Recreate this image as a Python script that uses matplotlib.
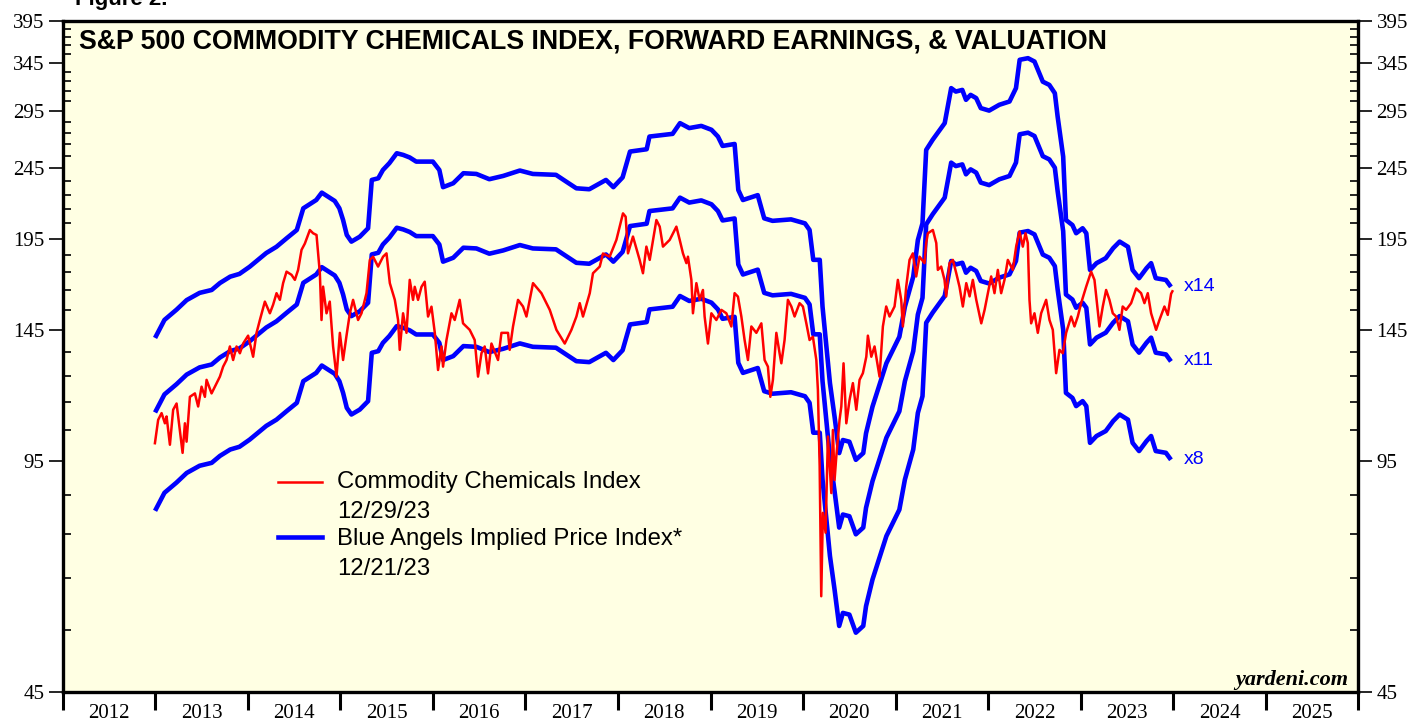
import matplotlib
matplotlib.use("Agg")
import matplotlib.pyplot as plt
from matplotlib.ticker import FixedLocator, NullFormatter, FixedFormatter
from matplotlib.lines import Line2D

# ---------------- data ----------------
eps_dates = [2013.01, 2013.10, 2013.23, 2013.34, 2013.48, 2013.61, 2013.70, 2013.81, 2013.91,
             2014.02, 2014.20, 2014.31, 2014.42, 2014.53, 2014.60, 2014.74, 2014.80, 2014.94, 2014.99,
             2015.03, 2015.07, 2015.12, 2015.21, 2015.30, 2015.34, 2015.41, 2015.46, 2015.53, 2015.61,
             2015.68, 2015.75, 2015.82, 2016.00, 2016.07, 2016.11, 2016.22, 2016.33, 2016.47, 2016.61,
             2016.76, 2016.94, 2017.08, 2017.33, 2017.44, 2017.55, 2017.69, 2017.87, 2017.95, 2018.05,
             2018.13, 2018.31, 2018.34, 2018.59, 2018.67, 2018.77, 2018.90, 2019.01, 2019.08, 2019.13,
             2019.26, 2019.30, 2019.35, 2019.51, 2019.58, 2019.67, 2019.87, 2020.02, 2020.07, 2020.11,
             2020.18, 2020.21, 2020.29, 2020.34, 2020.39, 2020.43, 2020.50, 2020.57, 2020.65, 2020.68,
             2020.75, 2020.90, 2021.04, 2021.10, 2021.19, 2021.24, 2021.29, 2021.33, 2021.40, 2021.53,
             2021.60, 2021.65, 2021.72, 2021.76, 2021.81, 2021.87, 2021.92, 2022.01, 2022.12, 2022.23,
             2022.30, 2022.34, 2022.43, 2022.50, 2022.59, 2022.66, 2022.72, 2022.75, 2022.81, 2022.84,
             2022.91, 2022.95, 2023.02, 2023.06, 2023.10, 2023.17, 2023.27, 2023.35, 2023.42, 2023.51,
             2023.56, 2023.63, 2023.71, 2023.76, 2023.81, 2023.92, 2023.96]
forward_eps = [10.17, 10.71, 11.07, 11.42, 11.69, 11.80, 12.07, 12.32, 12.43,
               12.72, 13.30, 13.57, 13.95, 14.33, 15.37, 15.79, 16.17, 15.74, 15.37,
               14.80, 14.10, 13.80, 14.02, 14.41, 16.85, 16.94, 17.40, 17.79, 18.37,
               18.27, 18.12, 17.88, 17.88, 17.40, 16.46, 16.67, 17.22, 17.18, 16.89,
               17.07, 17.37, 17.18, 17.13, 16.76, 16.40, 16.35, 16.85, 16.46, 16.99,
               18.47, 18.61, 19.39, 19.56, 20.25, 19.93, 20.07, 19.82, 19.39, 18.81,
               18.93, 16.31, 15.79, 16.04, 14.88, 14.76, 14.83, 14.64, 14.33, 13.01,
               13.01, 11.18, 8.73, 7.83, 6.96, 7.26, 7.22, 6.81, 6.96, 7.42,
               8.09, 9.31, 10.14, 11.18, 12.32, 13.87, 14.64, 18.57, 19.19, 20.25,
               22.68, 22.43, 22.55, 21.84, 22.19, 21.96, 21.26, 21.09, 21.49, 21.72,
               22.68, 24.86, 24.99, 24.72, 23.16, 22.92, 22.31, 20.69, 18.17, 14.80,
               14.56, 14.18, 14.41, 14.18, 12.59, 12.87, 13.08, 13.51, 13.80, 13.57,
               12.59, 12.26, 12.66, 12.87, 12.26, 12.19, 11.99]
multiples = [14, 11, 8]
multiple_labels = ["x14", "x11", "x8"]

price_dates = [2012.997, 2013.032, 2013.069, 2013.105, 2013.123, 2013.159, 2013.194, 2013.231, 2013.296,
               2013.321, 2013.339, 2013.375, 2013.429, 2013.464, 2013.501, 2013.537, 2013.555, 2013.609,
               2013.699, 2013.734, 2013.771, 2013.807, 2013.842, 2013.879, 2013.915, 2013.950, 2014.004,
               2014.058, 2014.095, 2014.131, 2014.185, 2014.239, 2014.274, 2014.311, 2014.347, 2014.382,
               2014.419, 2014.473, 2014.509, 2014.544, 2014.581, 2014.617, 2014.671, 2014.706, 2014.743,
               2014.779, 2014.797, 2014.814, 2014.851, 2014.886, 2014.922, 2014.959, 2014.995, 2015.030,
               2015.067, 2015.103, 2015.138, 2015.192, 2015.229, 2015.283, 2015.319, 2015.354, 2015.408,
               2015.462, 2015.499, 2015.535, 2015.589, 2015.624, 2015.642, 2015.678, 2015.715, 2015.750,
               2015.786, 2015.804, 2015.840, 2015.877, 2015.912, 2015.948, 2015.985, 2016.021, 2016.056,
               2016.093, 2016.110, 2016.147, 2016.201, 2016.236, 2016.290, 2016.326, 2016.398, 2016.452,
               2016.488, 2016.525, 2016.560, 2016.596, 2016.633, 2016.704, 2016.741, 2016.812, 2016.830,
               2016.866, 2016.920, 2016.974, 2017.011, 2017.046, 2017.082, 2017.173, 2017.263, 2017.335,
               2017.425, 2017.497, 2017.551, 2017.587, 2017.622, 2017.695, 2017.730, 2017.803, 2017.838,
               2017.910, 2017.983, 2018.054, 2018.083, 2018.108, 2018.162, 2018.234, 2018.270, 2018.307,
               2018.343, 2018.415, 2018.451, 2018.486, 2018.559, 2018.631, 2018.667, 2018.702, 2018.739,
               2018.756, 2018.793, 2018.810, 2018.847, 2018.882, 2018.918, 2018.936, 2018.972, 2019.009,
               2019.063, 2019.117, 2019.171, 2019.225, 2019.260, 2019.296, 2019.333, 2019.368, 2019.404,
               2019.441, 2019.495, 2019.549, 2019.584, 2019.620, 2019.646, 2019.674, 2019.711, 2019.746,
               2019.765, 2019.800, 2019.836, 2019.873, 2019.908, 2019.962, 2019.998, 2020.035, 2020.070,
               2020.106, 2020.143, 2020.160, 2020.179, 2020.196, 2020.214, 2020.243, 2020.268, 2020.305,
               2020.322, 2020.340, 2020.359, 2020.394, 2020.413, 2020.437, 2020.467, 2020.502, 2020.538,
               2020.575, 2020.610, 2020.646, 2020.683, 2020.700, 2020.737, 2020.772, 2020.826, 2020.862,
               2020.898, 2020.934, 2020.988, 2021.024, 2021.060, 2021.078, 2021.114, 2021.150, 2021.186,
               2021.222, 2021.258, 2021.312, 2021.330, 2021.348, 2021.402, 2021.439, 2021.456, 2021.492,
               2021.528, 2021.546, 2021.582, 2021.618, 2021.655, 2021.690, 2021.726, 2021.763, 2021.799,
               2021.834, 2021.871, 2021.925, 2021.961, 2021.996, 2022.032, 2022.068, 2022.104, 2022.140,
               2022.176, 2022.212, 2022.266, 2022.302, 2022.338, 2022.374, 2022.403, 2022.428, 2022.446,
               2022.464, 2022.500, 2022.536, 2022.572, 2022.626, 2022.662, 2022.698, 2022.734, 2022.770,
               2022.806, 2022.842, 2022.896, 2022.932, 2022.968, 2023.004, 2023.058, 2023.112, 2023.148,
               2023.202, 2023.238, 2023.274, 2023.310, 2023.346, 2023.382, 2023.418, 2023.453, 2023.490,
               2023.544, 2023.598, 2023.652, 2023.688, 2023.724, 2023.760, 2023.814, 2023.850, 2023.904,
               2023.940, 2023.976, 2023.990]
price_index = [100.6, 108.5, 110.9, 107.3, 109.7, 100.1, 112.1, 114.4, 97.5,
               107.3, 101.1, 116.9, 118.2, 113.3, 120.8, 116.9, 123.5, 118.2,
               124.8, 128.9, 131.7, 137.6, 131.7, 137.6, 134.6, 138.9, 142.5,
               133.1, 143.8, 149.9, 159.1, 153.2, 157.5, 163.5, 160.0, 168.9,
               175.3, 173.5, 170.7, 176.3, 188.1, 192.0, 200.6, 198.5, 197.4,
               174.4, 149.9, 167.0, 153.2, 159.1, 137.6, 124.8, 143.8, 131.7,
               142.5, 153.2, 160.0, 149.9, 153.2, 163.5, 182.1, 184.0, 178.2,
               184.0, 186.0, 168.9, 160.0, 149.9, 136.1, 153.2, 143.8, 170.7,
               160.0, 166.9, 160.0, 166.9, 169.7, 151.6, 156.5, 143.8, 127.5,
               137.6, 128.9, 140.5, 153.2, 149.9, 160.0, 148.3, 145.2, 140.5,
               124.8, 134.6, 137.6, 126.1, 138.9, 131.7, 143.8, 143.8, 136.1,
               146.8, 160.0, 156.6, 151.6, 160.0, 168.9, 163.5, 154.9, 145.2,
               138.9, 145.2, 151.6, 158.3, 151.6, 163.5, 174.4, 178.2, 185.9,
               184.0, 194.3, 211.7, 209.4, 186.0, 196.4, 182.1, 174.4, 190.1,
               182.1, 207.2, 202.8, 190.1, 194.3, 202.8, 194.3, 186.0, 180.2,
               184.0, 170.7, 153.2, 168.9, 160.0, 165.2, 151.6, 138.9, 153.2,
               149.9, 154.9, 153.2, 146.8, 163.5, 161.7, 151.6, 140.5, 131.7,
               146.8, 143.8, 148.3, 131.7, 128.9, 116.9, 123.5, 143.8, 134.6,
               130.3, 140.5, 160.0, 156.6, 151.6, 158.3, 156.6, 148.3, 140.5,
               142.0, 131.7, 119.5, 93.3, 61.3, 80.3, 75.3, 102.8, 85.6,
               105.0, 89.3, 96.4, 108.5, 113.3, 130.3, 107.3, 115.7, 122.2,
               112.1, 123.5, 126.2, 133.1, 142.5, 133.1, 137.6, 124.8, 146.8,
               156.6, 151.6, 156.6, 170.7, 160.0, 146.8, 166.9, 182.1, 186.0,
               172.6, 184.0, 180.2, 192.3, 198.5, 200.6, 192.3, 176.3, 178.2,
               170.7, 161.8, 180.2, 182.1, 174.4, 166.9, 156.6, 168.9, 161.8,
               170.7, 160.0, 148.3, 154.9, 163.5, 172.6, 163.5, 176.3, 163.5,
               170.7, 182.1, 176.3, 190.1, 199.6, 190.1, 198.5, 192.3, 160.0,
               148.3, 153.2, 143.8, 153.2, 160.0, 149.9, 145.2, 126.2, 136.1,
               134.6, 143.8, 151.6, 146.8, 151.6, 158.3, 166.9, 175.3, 170.7,
               146.8, 156.6, 165.2, 160.0, 153.2, 151.6, 145.2, 156.6, 154.9,
               158.3, 166.0, 163.5, 158.3, 163.5, 153.2, 145.2, 149.9, 156.6,
               152.4, 163.2, 164.5]

y_ticks = [45, 95, 145, 195, 245, 295, 345, 395]
year_labels = [str(y) for y in range(2012, 2026)]

# ---------------- figure ----------------
plt.rcParams['font.family'] = ['Liberation Sans', 'DejaVu Sans']
fig = plt.figure(figsize=(14.14, 7.21), dpi=100)
ax = fig.add_axes([0.0443, 0.0406, 0.9164, 0.9307])
ax.set_facecolor('#FFFFE3')

BLUE_LW = 3.3
RED_LW = 1.8
for m in multiples:
    ax.plot(eps_dates, [e * m for e in forward_eps], color='#0000FF', lw=BLUE_LW,
            solid_joinstyle='round', zorder=2)
ax.plot(price_dates, price_index, color='#FF0000', lw=RED_LW, solid_joinstyle='round', zorder=3)

for m, lab in zip(multiples, multiple_labels):
    ax.annotate(lab, xy=(eps_dates[-1], forward_eps[-1] * m), xytext=(10, -1),
                textcoords='offset points', color='#0000FF', fontsize=14,
                va='center', ha='left')

ax.set_yscale('log')
ax.set_ylim(45, 395)
ax.set_xlim(2012, 2026)

# y ticks
minor_y = [v for v in range(55, 395, 10) if v not in y_ticks]
ax.yaxis.set_major_locator(FixedLocator(y_ticks))
ax.yaxis.set_major_formatter(FixedFormatter([str(v) for v in y_ticks]))
ax.yaxis.set_minor_locator(FixedLocator(minor_y))
ax.yaxis.set_minor_formatter(NullFormatter())
ax.tick_params(axis='y', which='major', direction='out', length=10, width=1.2,
               left=True, right=True, labelleft=True, labelright=True, pad=3,
               labelsize=15, labelfontfamily='Liberation Serif')
ax.tick_params(axis='y', which='minor', direction='in', length=6, width=1.2,
               left=True, right=True)

# x ticks
ax.xaxis.set_major_locator(FixedLocator(list(range(2012, 2027))))
ax.xaxis.set_major_formatter(NullFormatter())
ax.xaxis.set_minor_locator(FixedLocator([y + 0.5 for y in range(2012, 2026)]))
ax.xaxis.set_minor_formatter(FixedFormatter(year_labels))
ax.tick_params(axis='x', which='major', direction='out', length=13, width=2.2)
ax.tick_params(axis='x', which='minor', length=0, pad=9, labelsize=15,
               labelfontfamily='Liberation Serif')

for s in ax.spines.values():
    s.set_linewidth(2.4)
    s.set_color('black')

# title inside axes
ax.text(0.0125, 0.969, "S&P 500 COMMODITY CHEMICALS INDEX, FORWARD EARNINGS, & VALUATION",
        transform=ax.transAxes, fontsize=19.3, fontweight='bold', va='center', ha='left')

# legend (manual)
LEG_FS = 17.2
ax.add_line(Line2D([0.166, 0.2], [0.313, 0.313], transform=ax.transAxes, color='#FF0000', lw=RED_LW))
ax.add_line(Line2D([0.166, 0.2], [0.230, 0.230], transform=ax.transAxes, color='#0000FF', lw=BLUE_LW))
ax.text(0.212, 0.3125, "Commodity Chemicals Index", transform=ax.transAxes, fontsize=LEG_FS, va='center')
ax.text(0.212, 0.2675, "12/29/23", transform=ax.transAxes, fontsize=LEG_FS, va='center')
ax.text(0.212, 0.228, "Blue Angels Implied Price Index*", transform=ax.transAxes, fontsize=LEG_FS, va='center')
ax.text(0.212, 0.183, "12/21/23", transform=ax.transAxes, fontsize=LEG_FS, va='center')

ax.text(0.992, 0.010, "yardeni.com", transform=ax.transAxes, fontsize=16, fontweight='bold',
        style='italic', family='Liberation Serif', ha='right', va='baseline')

fig.text(75 / 1414, 1 - 5 / 721, "Figure 2.", fontsize=16, fontweight='bold', ha='left', va='baseline')

fig.savefig('out.png', dpi=100)
